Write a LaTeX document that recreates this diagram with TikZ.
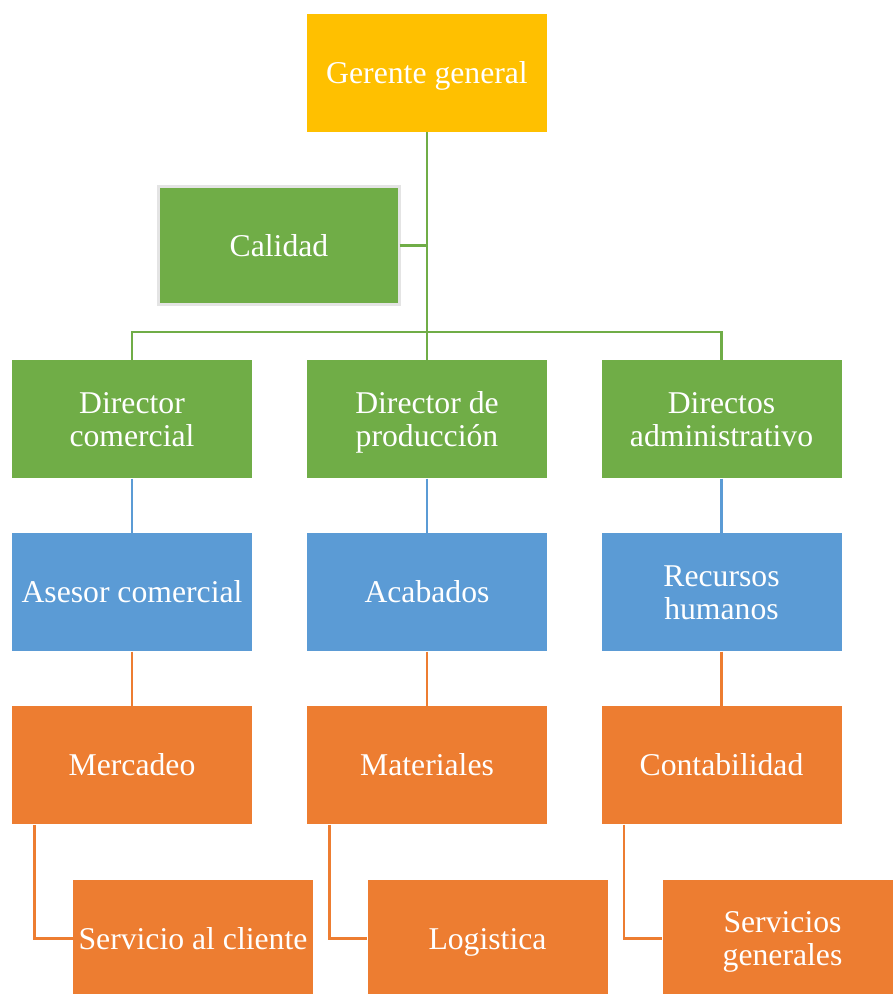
\documentclass[tikz,border=0pt]{standalone}
\usepackage{fontspec}
\setmainfont{Liberation Serif}
\usetikzlibrary{calc}
\definecolor{cyellow}{HTML}{FFC000}
\definecolor{cgreen}{HTML}{70AD47}
\definecolor{cblue}{HTML}{5B9BD5}
\definecolor{corange}{HTML}{ED7D31}
\definecolor{cborder}{HTML}{E4E4E4}
\newcommand{\topstrut}{\rule{0pt}{29pt}}
\newcommand{\botstrut}{\rule[-8pt]{0pt}{8pt}}
\tikzset{
  orgbox/.style={rectangle, minimum width=241pt, minimum height=119pt, inner sep=2pt, outer sep=0pt,
    text=white, align=center, font=\fontsize{31.7}{33}\selectfont, draw=white, line width=0.8pt},
  ybox/.style={orgbox, fill=cyellow},
  gbox/.style={orgbox, fill=cgreen},
  bbox/.style={orgbox, fill=cblue},
  obox/.style={orgbox, fill=corange},
  gline/.style={draw=cgreen, line width=2.6pt},
  bline/.style={draw=cblue, line width=2.2pt},
  oline/.style={draw=corange, line width=2.2pt},
}
\begin{document}
\begin{tikzpicture}[x=1pt, y=-1pt]
\useasboundingbox (0,0) rectangle (893,994);
% top
\node[ybox] (gg) at (427,72.5) {\topstrut Gerente general\botstrut};
\node[gbox, draw=cborder, line width=3pt, minimum width=241pt, minimum height=118pt] (cal) at (279,245.5) {\topstrut Calidad\botstrut};
% directors
\node[gbox] (d1) at (132,419) {\topstrut Director\\comercial\botstrut};
\node[gbox] (d2) at (427,419) {\topstrut Director de\\producción\botstrut};
\node[gbox] (d3) at (721.5,419) {\topstrut Directos\\administrativo\botstrut};
% blue row
\node[bbox] (b1) at (132,592) {\topstrut Asesor comercial\botstrut};
\node[bbox] (b2) at (427,592) {\topstrut Acabados\botstrut};
\node[bbox] (b3) at (721.5,592) {\topstrut Recursos\\humanos\botstrut};
% orange row
\node[obox] (o1) at (132,765) {\topstrut Mercadeo\botstrut};
\node[obox] (o2) at (427,765) {\topstrut Materiales\botstrut};
\node[obox] (o3) at (721.5,765) {\topstrut Contabilidad\botstrut};
% bottom row
\node[obox] (s1) at (193,938.5) {\topstrut Servicio al cliente\botstrut};
\node[obox] (s2) at (487.5,938.5) {\topstrut Logistica\botstrut};
\node[obox] (s3) at (782.5,938.5) {\topstrut Servicios\\generales\botstrut};
% connectors
\coordinate (j) at (427,332);
\draw[gline] (gg.south) -- (j);
\draw[gline] (j) -| (d1.north);
\draw[gline] (j) -| (d3.north);
\draw[gline] (j) -- (d2.north);
\draw[gline] (cal.east) -- (cal.east -| gg.south);
\draw[bline] (d1.south) -- (b1.north);
\draw[bline] (d2.south) -- (b2.north);
\draw[bline] (d3.south) -- (b3.north);
\draw[oline] (b1.south) -- (o1.north);
\draw[oline] (b2.south) -- (o2.north);
\draw[oline] (b3.south) -- (o3.north);
\draw[oline] ([xshift=23pt]o1.south west) |- (s1.west);
\draw[oline] ([xshift=23pt]o2.south west) |- (s2.west);
\draw[oline] ([xshift=23pt]o3.south west) |- (s3.west);
\end{tikzpicture}
\end{document}
